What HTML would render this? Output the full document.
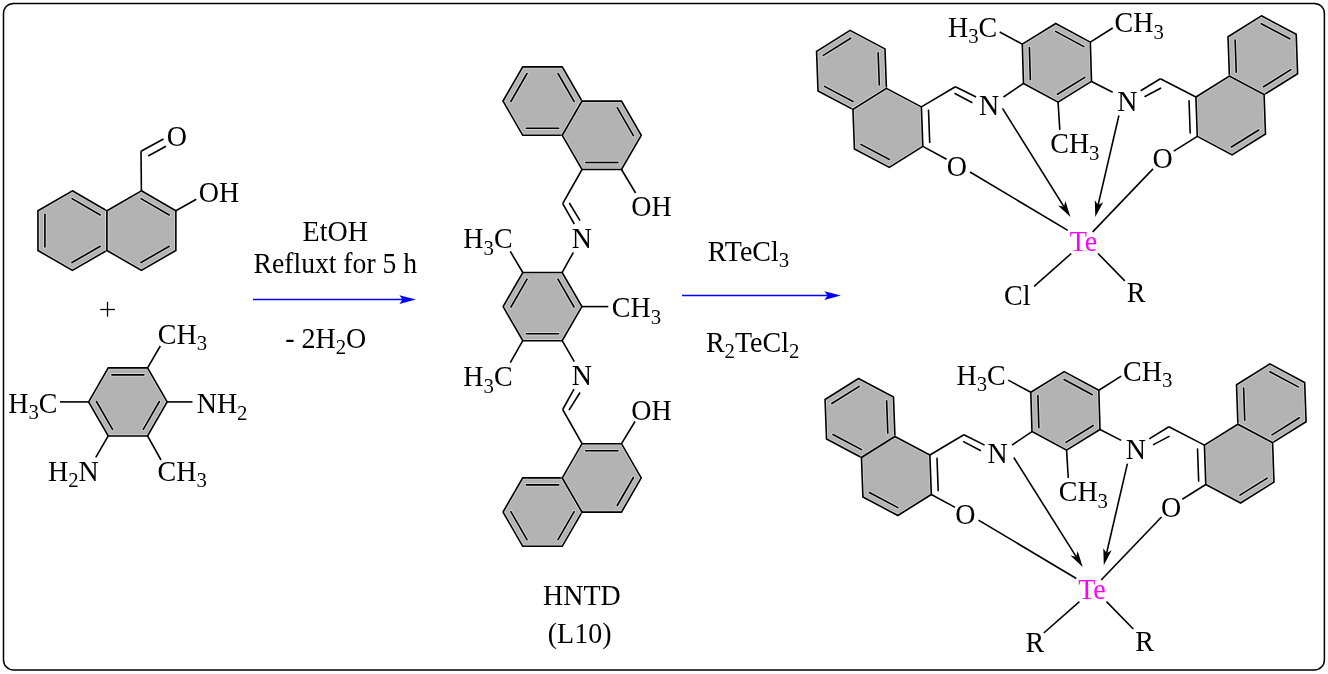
<!DOCTYPE html>
<html><head><meta charset="utf-8"><style>
html,body{margin:0;padding:0;background:#fff;width:1328px;height:674px;overflow:hidden}
svg{display:block;will-change:transform}
text{font-family:"Liberation Serif",serif}
</style></head><body>
<svg width="1328" height="674" viewBox="0 0 1328 674">
<rect x="3.5" y="3.4" width="1320.9" height="666.6" rx="10" ry="10" fill="none" stroke="#000" stroke-width="1.5"/>
<polygon points="72.4,190.8 106.87,210.7 106.87,250.5 72.4,270.4 37.93,250.5 37.93,210.7" fill="#b3b3b3" stroke="#fff" stroke-opacity="0.4" stroke-width="3.2" stroke-linejoin="miter"/>
<polygon points="72.4,190.8 106.87,210.7 106.87,250.5 72.4,270.4 37.93,250.5 37.93,210.7" fill="none" stroke="#000" stroke-width="1.6" stroke-linejoin="miter"/>
<line x1="72.02" y1="198.66" x2="100.25" y2="214.96" stroke="#fff" stroke-opacity="0.4" stroke-width="3.6" stroke-linecap="round"/>
<line x1="72.02" y1="198.66" x2="100.25" y2="214.96" stroke="#000" stroke-width="1.6" stroke-linecap="round"/>
<line x1="100.25" y1="246.24" x2="72.02" y2="262.54" stroke="#fff" stroke-opacity="0.4" stroke-width="3.6" stroke-linecap="round"/>
<line x1="100.25" y1="246.24" x2="72.02" y2="262.54" stroke="#000" stroke-width="1.6" stroke-linecap="round"/>
<line x1="44.93" y1="246.9" x2="44.93" y2="214.3" stroke="#fff" stroke-opacity="0.4" stroke-width="3.6" stroke-linecap="round"/>
<line x1="44.93" y1="246.9" x2="44.93" y2="214.3" stroke="#000" stroke-width="1.6" stroke-linecap="round"/>
<polygon points="141.4,190.8 175.87,210.7 175.87,250.5 141.4,270.4 106.93,250.5 106.93,210.7" fill="#b3b3b3" stroke="#fff" stroke-opacity="0.4" stroke-width="3.2" stroke-linejoin="miter"/>
<polygon points="141.4,190.8 175.87,210.7 175.87,250.5 141.4,270.4 106.93,250.5 106.93,210.7" fill="none" stroke="#000" stroke-width="1.6" stroke-linejoin="miter"/>
<line x1="141.02" y1="198.66" x2="169.25" y2="214.96" stroke="#fff" stroke-opacity="0.4" stroke-width="3.6" stroke-linecap="round"/>
<line x1="141.02" y1="198.66" x2="169.25" y2="214.96" stroke="#000" stroke-width="1.6" stroke-linecap="round"/>
<line x1="169.25" y1="246.24" x2="141.02" y2="262.54" stroke="#fff" stroke-opacity="0.4" stroke-width="3.6" stroke-linecap="round"/>
<line x1="169.25" y1="246.24" x2="141.02" y2="262.54" stroke="#000" stroke-width="1.6" stroke-linecap="round"/>
<line x1="141.4" y1="190.8" x2="141" y2="151.25" stroke="#000" stroke-width="1.6" stroke-linecap="butt"/>
<line x1="141" y1="151.25" x2="163.5" y2="139" stroke="#000" stroke-width="1.6" stroke-linecap="butt"/>
<line x1="148.2" y1="156" x2="166" y2="146.2" stroke="#000" stroke-width="1.6" stroke-linecap="butt"/>
<text x="166.85" y="145.7" fill="#000" font-size="28" transform="matrix(1,0,0,1.03,0,-4.37)">O</text>
<line x1="175.87" y1="210.7" x2="196.3" y2="199.3" stroke="#000" stroke-width="1.6" stroke-linecap="butt"/>
<text x="198.85" y="202" fill="#000" font-size="28" transform="matrix(1,0,0,1.03,0,-6.06)">OH</text>
<line x1="100.3" y1="309.5" x2="115" y2="309.5" stroke="#000" stroke-width="1.25" stroke-linecap="butt"/>
<line x1="107.5" y1="301.8" x2="107.5" y2="316.6" stroke="#000" stroke-width="1.25" stroke-linecap="butt"/>
<polygon points="167.2,401.9 147.55,435.93 108.25,435.93 88.6,401.9 108.25,367.87 147.55,367.87" fill="#b3b3b3" stroke="#fff" stroke-opacity="0.4" stroke-width="3.2" stroke-linejoin="miter"/>
<polygon points="167.2,401.9 147.55,435.93 108.25,435.93 88.6,401.9 108.25,367.87 147.55,367.87" fill="none" stroke="#000" stroke-width="1.6" stroke-linejoin="miter"/>
<line x1="111.85" y1="374.87" x2="143.95" y2="374.87" stroke="#fff" stroke-opacity="0.4" stroke-width="3.6" stroke-linecap="round"/>
<line x1="111.85" y1="374.87" x2="143.95" y2="374.87" stroke="#000" stroke-width="1.6" stroke-linecap="round"/>
<line x1="159.34" y1="401.52" x2="143.29" y2="429.32" stroke="#fff" stroke-opacity="0.4" stroke-width="3.6" stroke-linecap="round"/>
<line x1="159.34" y1="401.52" x2="143.29" y2="429.32" stroke="#000" stroke-width="1.6" stroke-linecap="round"/>
<line x1="112.51" y1="429.32" x2="96.46" y2="401.52" stroke="#fff" stroke-opacity="0.4" stroke-width="3.6" stroke-linecap="round"/>
<line x1="112.51" y1="429.32" x2="96.46" y2="401.52" stroke="#000" stroke-width="1.6" stroke-linecap="round"/>
<line x1="147.55" y1="367.87" x2="160.3" y2="346" stroke="#000" stroke-width="1.6" stroke-linecap="butt"/>
<text x="157.85" y="344.1" fill="#000" font-size="28" transform="matrix(1,0,0,1.03,0,-10.32)">CH<tspan font-size="20.8" dy="6.2">3</tspan></text>
<line x1="167.2" y1="401.9" x2="192.5" y2="401.9" stroke="#000" stroke-width="1.6" stroke-linecap="butt"/>
<text x="196.69" y="413.2" fill="#000" font-size="28" transform="matrix(1,0,0,1.03,0,-12.4)">NH<tspan font-size="20.8" dy="6.2">2</tspan></text>
<line x1="88.6" y1="401.9" x2="60" y2="401.9" stroke="#000" stroke-width="1.6" stroke-linecap="butt"/>
<text x="8.23" y="412.7" fill="#000" font-size="28" transform="matrix(1,0,0,1.03,0,-12.38)">H<tspan font-size="20.8" dy="6.2">3</tspan><tspan dy="-6.2">C</tspan></text>
<line x1="108.25" y1="435.93" x2="95.75" y2="457.3" stroke="#000" stroke-width="1.6" stroke-linecap="butt"/>
<text x="47.94" y="481" fill="#000" font-size="28" transform="matrix(1,0,0,1.03,0,-14.43)">H<tspan font-size="20.8" dy="6.2">2</tspan><tspan dy="-6.2">N</tspan></text>
<line x1="147.55" y1="435.93" x2="161" y2="460" stroke="#000" stroke-width="1.6" stroke-linecap="butt"/>
<text x="157.6" y="481" fill="#000" font-size="28" transform="matrix(1,0,0,1.03,0,-14.43)">CH<tspan font-size="20.8" dy="6.2">3</tspan></text>
<polygon points="415.8,299.6 399.4,304 402.6,299.6 399.4,295.2" fill="#0000ff"/>
<line x1="253" y1="299.6" x2="403" y2="299.6" stroke="#0000ff" stroke-width="1.5" stroke-linecap="butt"/>
<text x="302.59" y="240.7" fill="#000" font-size="28" transform="matrix(1,0,0,1.03,0,-7.22)">EtOH</text>
<text x="253.6" y="272.7" fill="#000" font-size="27.65" transform="matrix(1,0,0,1.03,0,-8.18)">Refluxt for 5 h</text>
<text x="285.16" y="347.8" fill="#000" font-size="28" transform="matrix(1,0,0,1.03,0,-10.43)">- 2H<tspan font-size="20.8" dy="6.2">2</tspan><tspan dy="-6.2">O</tspan></text>
<polygon points="581.9,306.6 562.2,340.72 522.8,340.72 503.1,306.6 522.8,272.48 562.2,272.48" fill="#b3b3b3" stroke="#fff" stroke-opacity="0.4" stroke-width="3.2" stroke-linejoin="miter"/>
<polygon points="581.9,306.6 562.2,340.72 522.8,340.72 503.1,306.6 522.8,272.48 562.2,272.48" fill="none" stroke="#000" stroke-width="1.6" stroke-linejoin="miter"/>
<line x1="510.96" y1="306.98" x2="527.06" y2="279.1" stroke="#fff" stroke-opacity="0.4" stroke-width="3.6" stroke-linecap="round"/>
<line x1="510.96" y1="306.98" x2="527.06" y2="279.1" stroke="#000" stroke-width="1.6" stroke-linecap="round"/>
<line x1="557.94" y1="279.1" x2="574.04" y2="306.98" stroke="#fff" stroke-opacity="0.4" stroke-width="3.6" stroke-linecap="round"/>
<line x1="557.94" y1="279.1" x2="574.04" y2="306.98" stroke="#000" stroke-width="1.6" stroke-linecap="round"/>
<line x1="558.6" y1="333.72" x2="526.4" y2="333.72" stroke="#fff" stroke-opacity="0.4" stroke-width="3.6" stroke-linecap="round"/>
<line x1="558.6" y1="333.72" x2="526.4" y2="333.72" stroke="#000" stroke-width="1.6" stroke-linecap="round"/>
<polygon points="582,101.1 562.25,135.31 522.75,135.31 503,101.1 522.75,66.89 562.25,66.89" fill="#b3b3b3" stroke="#fff" stroke-opacity="0.4" stroke-width="3.2" stroke-linejoin="miter"/>
<polygon points="582,101.1 562.25,135.31 522.75,135.31 503,101.1 522.75,66.89 562.25,66.89" fill="none" stroke="#000" stroke-width="1.6" stroke-linejoin="miter"/>
<line x1="510.86" y1="101.48" x2="527.01" y2="73.51" stroke="#fff" stroke-opacity="0.4" stroke-width="3.6" stroke-linecap="round"/>
<line x1="510.86" y1="101.48" x2="527.01" y2="73.51" stroke="#000" stroke-width="1.6" stroke-linecap="round"/>
<line x1="557.99" y1="73.51" x2="574.14" y2="101.48" stroke="#fff" stroke-opacity="0.4" stroke-width="3.6" stroke-linecap="round"/>
<line x1="557.99" y1="73.51" x2="574.14" y2="101.48" stroke="#000" stroke-width="1.6" stroke-linecap="round"/>
<line x1="558.65" y1="128.31" x2="526.35" y2="128.31" stroke="#fff" stroke-opacity="0.4" stroke-width="3.6" stroke-linecap="round"/>
<line x1="558.65" y1="128.31" x2="526.35" y2="128.31" stroke="#000" stroke-width="1.6" stroke-linecap="round"/>
<polygon points="641.25,135.3 621.5,169.51 582,169.51 562.25,135.3 582,101.09 621.5,101.09" fill="#b3b3b3" stroke="#fff" stroke-opacity="0.4" stroke-width="3.2" stroke-linejoin="miter"/>
<polygon points="641.25,135.3 621.5,169.51 582,169.51 562.25,135.3 582,101.09 621.5,101.09" fill="none" stroke="#000" stroke-width="1.6" stroke-linejoin="miter"/>
<line x1="617.24" y1="107.71" x2="633.39" y2="135.68" stroke="#fff" stroke-opacity="0.4" stroke-width="3.6" stroke-linecap="round"/>
<line x1="617.24" y1="107.71" x2="633.39" y2="135.68" stroke="#000" stroke-width="1.6" stroke-linecap="round"/>
<line x1="617.9" y1="162.51" x2="585.6" y2="162.51" stroke="#fff" stroke-opacity="0.4" stroke-width="3.6" stroke-linecap="round"/>
<line x1="617.9" y1="162.51" x2="585.6" y2="162.51" stroke="#000" stroke-width="1.6" stroke-linecap="round"/>
<polygon points="582,512.1 562.25,546.31 522.75,546.31 503,512.1 522.75,477.89 562.25,477.89" fill="#b3b3b3" stroke="#fff" stroke-opacity="0.4" stroke-width="3.2" stroke-linejoin="miter"/>
<polygon points="582,512.1 562.25,546.31 522.75,546.31 503,512.1 522.75,477.89 562.25,477.89" fill="none" stroke="#000" stroke-width="1.6" stroke-linejoin="miter"/>
<line x1="527.01" y1="539.69" x2="510.86" y2="511.72" stroke="#fff" stroke-opacity="0.4" stroke-width="3.6" stroke-linecap="round"/>
<line x1="527.01" y1="539.69" x2="510.86" y2="511.72" stroke="#000" stroke-width="1.6" stroke-linecap="round"/>
<line x1="526.35" y1="484.89" x2="558.65" y2="484.89" stroke="#fff" stroke-opacity="0.4" stroke-width="3.6" stroke-linecap="round"/>
<line x1="526.35" y1="484.89" x2="558.65" y2="484.89" stroke="#000" stroke-width="1.6" stroke-linecap="round"/>
<line x1="574.14" y1="511.72" x2="557.99" y2="539.69" stroke="#fff" stroke-opacity="0.4" stroke-width="3.6" stroke-linecap="round"/>
<line x1="574.14" y1="511.72" x2="557.99" y2="539.69" stroke="#000" stroke-width="1.6" stroke-linecap="round"/>
<polygon points="641.25,477.9 621.5,512.11 582,512.11 562.25,477.9 582,443.69 621.5,443.69" fill="#b3b3b3" stroke="#fff" stroke-opacity="0.4" stroke-width="3.2" stroke-linejoin="miter"/>
<polygon points="641.25,477.9 621.5,512.11 582,512.11 562.25,477.9 582,443.69 621.5,443.69" fill="none" stroke="#000" stroke-width="1.6" stroke-linejoin="miter"/>
<line x1="585.6" y1="450.69" x2="617.9" y2="450.69" stroke="#fff" stroke-opacity="0.4" stroke-width="3.6" stroke-linecap="round"/>
<line x1="585.6" y1="450.69" x2="617.9" y2="450.69" stroke="#000" stroke-width="1.6" stroke-linecap="round"/>
<line x1="633.39" y1="477.52" x2="617.24" y2="505.49" stroke="#fff" stroke-opacity="0.4" stroke-width="3.6" stroke-linecap="round"/>
<line x1="633.39" y1="477.52" x2="617.24" y2="505.49" stroke="#000" stroke-width="1.6" stroke-linecap="round"/>
<line x1="522.8" y1="272.48" x2="510.3" y2="251.4" stroke="#000" stroke-width="1.6" stroke-linecap="butt"/>
<text x="463.29" y="248.5" fill="#000" font-size="28" transform="matrix(1,0,0,1.03,0,-7.46)">H<tspan font-size="20.8" dy="6.2">3</tspan><tspan dy="-6.2">C</tspan></text>
<line x1="562.2" y1="272.48" x2="573.4" y2="252.3" stroke="#000" stroke-width="1.6" stroke-linecap="butt"/>
<text x="571.69" y="248.5" fill="#000" font-size="28" transform="matrix(1,0,0,1.03,0,-7.46)">N</text>
<line x1="574.3" y1="224" x2="562.7" y2="203.7" stroke="#000" stroke-width="1.6" stroke-linecap="butt"/>
<line x1="569.3" y1="203" x2="580" y2="220.7" stroke="#000" stroke-width="1.6" stroke-linecap="butt"/>
<line x1="562.7" y1="203.7" x2="582" y2="169.51" stroke="#000" stroke-width="1.6" stroke-linecap="butt"/>
<line x1="621.5" y1="169.51" x2="635.6" y2="193" stroke="#000" stroke-width="1.6" stroke-linecap="butt"/>
<text x="631.25" y="215.6" fill="#000" font-size="28" transform="matrix(1,0,0,1.03,0,-6.47)">OH</text>
<line x1="581.9" y1="306.6" x2="608.3" y2="306.6" stroke="#000" stroke-width="1.6" stroke-linecap="butt"/>
<text x="611.85" y="317.5" fill="#000" font-size="28" transform="matrix(1,0,0,1.03,0,-9.53)">CH<tspan font-size="20.8" dy="6.2">3</tspan></text>
<line x1="522.8" y1="340.72" x2="510.3" y2="362.7" stroke="#000" stroke-width="1.6" stroke-linecap="butt"/>
<text x="463.29" y="386.4" fill="#000" font-size="28" transform="matrix(1,0,0,1.03,0,-11.59)">H<tspan font-size="20.8" dy="6.2">3</tspan><tspan dy="-6.2">C</tspan></text>
<line x1="562.2" y1="340.72" x2="574.3" y2="361.7" stroke="#000" stroke-width="1.6" stroke-linecap="butt"/>
<text x="571.69" y="385.4" fill="#000" font-size="28" transform="matrix(1,0,0,1.03,0,-11.56)">N</text>
<line x1="574" y1="389.2" x2="562.7" y2="409.5" stroke="#000" stroke-width="1.6" stroke-linecap="butt"/>
<line x1="569" y1="410.2" x2="580" y2="392.5" stroke="#000" stroke-width="1.6" stroke-linecap="butt"/>
<line x1="562.7" y1="409.5" x2="582" y2="443.69" stroke="#000" stroke-width="1.6" stroke-linecap="butt"/>
<line x1="621.5" y1="443.69" x2="635" y2="421.5" stroke="#000" stroke-width="1.6" stroke-linecap="butt"/>
<text x="631.25" y="420.3" fill="#000" font-size="28" transform="matrix(1,0,0,1.03,0,-12.61)">OH</text>
<text x="542.99" y="604.8" fill="#000" font-size="28" transform="matrix(1,0,0,1.03,0,-18.14)">HNTD</text>
<text x="547.77" y="643.1" fill="#000" font-size="28" transform="matrix(1,0,0,1.03,0,-19.29)">(L10)</text>
<polygon points="840.7,295.6 824.4,299.9 827.6,295.6 824.4,291.3" fill="#0000ff"/>
<line x1="682" y1="295.6" x2="828" y2="295.6" stroke="#0000ff" stroke-width="1.5" stroke-linecap="butt"/>
<text x="707.79" y="260.9" fill="#000" font-size="28" transform="matrix(1,0,0,1.03,0,-7.83)">RTeCl<tspan font-size="20.8" dy="6.2">3</tspan></text>
<text x="705.89" y="351.6" fill="#000" font-size="28" transform="matrix(1,0,0,1.03,0,-10.55)">R<tspan font-size="20.8" dy="6.2">2</tspan><tspan dy="-6.2">TeCl</tspan><tspan font-size="20.8" dy="6.2">2</tspan></text>
<g transform="translate(0,0)">
<polygon points="850.05,30.4 884.99,48.89 886.44,88.4 852.95,109.4 818.01,90.91 816.56,51.4" fill="#b3b3b3" stroke="#fff" stroke-opacity="0.4" stroke-width="3.2" stroke-linejoin="miter"/>
<polygon points="850.05,30.4 884.99,48.89 886.44,88.4 852.95,109.4 818.01,90.91 816.56,51.4" fill="none" stroke="#000" stroke-width="1.6" stroke-linejoin="miter"/>
<line x1="823.33" y1="55.42" x2="850.72" y2="38.24" stroke="#fff" stroke-opacity="0.4" stroke-width="3.6" stroke-linecap="round"/>
<line x1="823.33" y1="55.42" x2="850.72" y2="38.24" stroke="#000" stroke-width="1.6" stroke-linecap="round"/>
<line x1="878.12" y1="52.75" x2="879.31" y2="85.06" stroke="#fff" stroke-opacity="0.4" stroke-width="3.6" stroke-linecap="round"/>
<line x1="878.12" y1="52.75" x2="879.31" y2="85.06" stroke="#000" stroke-width="1.6" stroke-linecap="round"/>
<line x1="853.04" y1="101.53" x2="824.47" y2="86.4" stroke="#fff" stroke-opacity="0.4" stroke-width="3.6" stroke-linecap="round"/>
<line x1="853.04" y1="101.53" x2="824.47" y2="86.4" stroke="#000" stroke-width="1.6" stroke-linecap="round"/>
<polygon points="886.45,88.4 921.39,106.89 922.84,146.4 889.35,167.4 854.41,148.91 852.96,109.4" fill="#b3b3b3" stroke="#fff" stroke-opacity="0.4" stroke-width="3.2" stroke-linejoin="miter"/>
<polygon points="886.45,88.4 921.39,106.89 922.84,146.4 889.35,167.4 854.41,148.91 852.96,109.4" fill="none" stroke="#000" stroke-width="1.6" stroke-linejoin="miter"/>
<line x1="889.44" y1="159.53" x2="860.87" y2="144.4" stroke="#fff" stroke-opacity="0.4" stroke-width="3.6" stroke-linecap="round"/>
<line x1="889.44" y1="159.53" x2="860.87" y2="144.4" stroke="#000" stroke-width="1.6" stroke-linecap="round"/>
<line x1="928.51" y1="110.23" x2="929.7" y2="142.54" stroke="#000" stroke-width="1.6" stroke-linecap="round"/>
<line x1="921.39" y1="106.89" x2="955.4" y2="86.7" stroke="#000" stroke-width="1.6" stroke-linecap="butt"/>
<line x1="955.4" y1="86.7" x2="976.1" y2="97" stroke="#000" stroke-width="1.6" stroke-linecap="butt"/>
<line x1="954.5" y1="93.3" x2="972.4" y2="102.7" stroke="#000" stroke-width="1.6" stroke-linecap="butt"/>
<text x="979.09" y="115.3" fill="#000" font-size="28" transform="matrix(1,0,0,1.03,0,-3.46)">N</text>
<polygon points="1055.73,23.52 1090.34,42.15 1091.5,81.43 1058.07,102.08 1023.46,83.45 1022.3,44.17" fill="#b3b3b3" stroke="#fff" stroke-opacity="0.4" stroke-width="3.2" stroke-linejoin="miter"/>
<polygon points="1055.73,23.52 1090.34,42.15 1091.5,81.43 1058.07,102.08 1023.46,83.45 1022.3,44.17" fill="none" stroke="#000" stroke-width="1.6" stroke-linejoin="miter"/>
<line x1="1055.59" y1="31.39" x2="1083.85" y2="46.61" stroke="#fff" stroke-opacity="0.4" stroke-width="3.6" stroke-linecap="round"/>
<line x1="1055.59" y1="31.39" x2="1083.85" y2="46.61" stroke="#000" stroke-width="1.6" stroke-linecap="round"/>
<line x1="1030.35" y1="79.64" x2="1029.4" y2="47.56" stroke="#fff" stroke-opacity="0.4" stroke-width="3.6" stroke-linecap="round"/>
<line x1="1030.35" y1="79.64" x2="1029.4" y2="47.56" stroke="#000" stroke-width="1.6" stroke-linecap="round"/>
<line x1="1084.76" y1="77.37" x2="1057.45" y2="94.24" stroke="#fff" stroke-opacity="0.4" stroke-width="3.6" stroke-linecap="round"/>
<line x1="1084.76" y1="77.37" x2="1057.45" y2="94.24" stroke="#000" stroke-width="1.6" stroke-linecap="round"/>
<line x1="1003.5" y1="97" x2="1023.46" y2="83.45" stroke="#000" stroke-width="1.6" stroke-linecap="butt"/>
<line x1="922.84" y1="146.4" x2="946.6" y2="159.3" stroke="#000" stroke-width="1.6" stroke-linecap="butt"/>
<text x="946.75" y="176" fill="#000" font-size="28" transform="matrix(1,0,0,1.03,0,-5.28)">O</text>
<line x1="970" y1="172" x2="1067.8" y2="230.4" stroke="#000" stroke-width="1.6" stroke-linecap="butt"/>
<polygon points="1070.4,217.1 1058.12,205.55 1063.89,206.67 1065.42,201" fill="#000"/>
<line x1="1002.5" y1="108.3" x2="1063.89" y2="206.67" stroke="#000" stroke-width="1.6" stroke-linecap="butt"/>
<line x1="1022.3" y1="44.17" x2="999.7" y2="32" stroke="#000" stroke-width="1.6" stroke-linecap="butt"/>
<text x="947.99" y="36.7" fill="#000" font-size="28" transform="matrix(1,0,0,1.03,0,-1.1)">H<tspan font-size="20.8" dy="6.2">3</tspan><tspan dy="-6.2">C</tspan></text>
<line x1="1090.34" y1="42.15" x2="1112.7" y2="28" stroke="#000" stroke-width="1.6" stroke-linecap="butt"/>
<text x="1114.55" y="32.5" fill="#000" font-size="28" transform="matrix(1,0,0,1.03,0,-0.98)">CH<tspan font-size="20.8" dy="6.2">3</tspan></text>
<line x1="1091.5" y1="81.43" x2="1112.7" y2="92.3" stroke="#000" stroke-width="1.6" stroke-linecap="butt"/>
<text x="1117.19" y="111" fill="#000" font-size="28" transform="matrix(1,0,0,1.03,0,-3.33)">N</text>
<line x1="1058.07" y1="102.08" x2="1059.8" y2="129.9" stroke="#000" stroke-width="1.6" stroke-linecap="butt"/>
<text x="1050.25" y="153.4" fill="#000" font-size="28" transform="matrix(1,0,0,1.03,0,-4.6)">CH<tspan font-size="20.8" dy="6.2">3</tspan></text>
<line x1="1140.7" y1="90.8" x2="1160.4" y2="78.7" stroke="#000" stroke-width="1.6" stroke-linecap="butt"/>
<line x1="1144.5" y1="96.8" x2="1161.1" y2="88" stroke="#000" stroke-width="1.6" stroke-linecap="butt"/>
<polygon points="1261.42,15.82 1296.21,34.32 1297.59,73.7 1264.18,94.58 1229.39,76.08 1228.01,36.7" fill="#b3b3b3" stroke="#fff" stroke-opacity="0.4" stroke-width="3.2" stroke-linejoin="miter"/>
<polygon points="1261.42,15.82 1296.21,34.32 1297.59,73.7 1264.18,94.58 1229.39,76.08 1228.01,36.7" fill="none" stroke="#000" stroke-width="1.6" stroke-linejoin="miter"/>
<line x1="1261.32" y1="23.69" x2="1289.75" y2="38.81" stroke="#fff" stroke-opacity="0.4" stroke-width="3.6" stroke-linecap="round"/>
<line x1="1261.32" y1="23.69" x2="1289.75" y2="38.81" stroke="#000" stroke-width="1.6" stroke-linecap="round"/>
<line x1="1236.26" y1="72.24" x2="1235.13" y2="40.06" stroke="#fff" stroke-opacity="0.4" stroke-width="3.6" stroke-linecap="round"/>
<line x1="1236.26" y1="72.24" x2="1235.13" y2="40.06" stroke="#000" stroke-width="1.6" stroke-linecap="round"/>
<line x1="1290.83" y1="69.67" x2="1263.52" y2="86.73" stroke="#fff" stroke-opacity="0.4" stroke-width="3.6" stroke-linecap="round"/>
<line x1="1290.83" y1="69.67" x2="1263.52" y2="86.73" stroke="#000" stroke-width="1.6" stroke-linecap="round"/>
<polygon points="1229.32,76.12 1264.11,94.62 1265.49,134 1232.08,154.88 1197.29,136.38 1195.91,97" fill="#b3b3b3" stroke="#fff" stroke-opacity="0.4" stroke-width="3.2" stroke-linejoin="miter"/>
<polygon points="1229.32,76.12 1264.11,94.62 1265.49,134 1232.08,154.88 1197.29,136.38 1195.91,97" fill="none" stroke="#000" stroke-width="1.6" stroke-linejoin="miter"/>
<line x1="1258.73" y1="129.97" x2="1231.42" y2="147.03" stroke="#fff" stroke-opacity="0.4" stroke-width="3.6" stroke-linecap="round"/>
<line x1="1258.73" y1="129.97" x2="1231.42" y2="147.03" stroke="#000" stroke-width="1.6" stroke-linecap="round"/>
<line x1="1190.17" y1="133.03" x2="1189.04" y2="100.84" stroke="#000" stroke-width="1.6" stroke-linecap="round"/>
<line x1="1160.4" y1="78.7" x2="1195.91" y2="97" stroke="#000" stroke-width="1.6" stroke-linecap="butt"/>
<polygon points="1095.3,217.1 1094.8,200.25 1098.08,205.12 1103.18,202.2" fill="#000"/>
<line x1="1118.9" y1="115.5" x2="1098.08" y2="205.12" stroke="#000" stroke-width="1.6" stroke-linecap="butt"/>
<line x1="1197.29" y1="136.38" x2="1173.8" y2="151.1" stroke="#000" stroke-width="1.6" stroke-linecap="butt"/>
<text x="1152.55" y="168.5" fill="#000" font-size="28" transform="matrix(1,0,0,1.03,0,-5.06)">O</text>
<line x1="1153" y1="168.9" x2="1092.7" y2="231.9" stroke="#000" stroke-width="1.6" stroke-linecap="butt"/>
<text x="1069.69" y="251.3" fill="#ff00ff" font-size="28" transform="matrix(1,0,0,1.03,0,-7.54)">Te</text>
<line x1="1098" y1="253.5" x2="1124.8" y2="280.9" stroke="#000" stroke-width="1.6" stroke-linecap="butt"/>
<text x="1126.79" y="302.5" fill="#000" font-size="28" transform="matrix(1,0,0,1.03,0,-9.08)">R</text>
</g>
<line x1="1071.3" y1="253.5" x2="1034.1" y2="286.4" stroke="#000" stroke-width="1.6" stroke-linecap="butt"/>
<text x="1004.05" y="304.7" fill="#000" font-size="28" transform="matrix(1,0,0,1.03,0,-9.14)">Cl</text>
<g transform="translate(8.5,348.1)">
<polygon points="850.05,30.4 884.99,48.89 886.44,88.4 852.95,109.4 818.01,90.91 816.56,51.4" fill="#b3b3b3" stroke="#fff" stroke-opacity="0.4" stroke-width="3.2" stroke-linejoin="miter"/>
<polygon points="850.05,30.4 884.99,48.89 886.44,88.4 852.95,109.4 818.01,90.91 816.56,51.4" fill="none" stroke="#000" stroke-width="1.6" stroke-linejoin="miter"/>
<line x1="823.33" y1="55.42" x2="850.72" y2="38.24" stroke="#fff" stroke-opacity="0.4" stroke-width="3.6" stroke-linecap="round"/>
<line x1="823.33" y1="55.42" x2="850.72" y2="38.24" stroke="#000" stroke-width="1.6" stroke-linecap="round"/>
<line x1="878.12" y1="52.75" x2="879.31" y2="85.06" stroke="#fff" stroke-opacity="0.4" stroke-width="3.6" stroke-linecap="round"/>
<line x1="878.12" y1="52.75" x2="879.31" y2="85.06" stroke="#000" stroke-width="1.6" stroke-linecap="round"/>
<line x1="853.04" y1="101.53" x2="824.47" y2="86.4" stroke="#fff" stroke-opacity="0.4" stroke-width="3.6" stroke-linecap="round"/>
<line x1="853.04" y1="101.53" x2="824.47" y2="86.4" stroke="#000" stroke-width="1.6" stroke-linecap="round"/>
<polygon points="886.45,88.4 921.39,106.89 922.84,146.4 889.35,167.4 854.41,148.91 852.96,109.4" fill="#b3b3b3" stroke="#fff" stroke-opacity="0.4" stroke-width="3.2" stroke-linejoin="miter"/>
<polygon points="886.45,88.4 921.39,106.89 922.84,146.4 889.35,167.4 854.41,148.91 852.96,109.4" fill="none" stroke="#000" stroke-width="1.6" stroke-linejoin="miter"/>
<line x1="889.44" y1="159.53" x2="860.87" y2="144.4" stroke="#fff" stroke-opacity="0.4" stroke-width="3.6" stroke-linecap="round"/>
<line x1="889.44" y1="159.53" x2="860.87" y2="144.4" stroke="#000" stroke-width="1.6" stroke-linecap="round"/>
<line x1="928.51" y1="110.23" x2="929.7" y2="142.54" stroke="#000" stroke-width="1.6" stroke-linecap="round"/>
<line x1="921.39" y1="106.89" x2="955.4" y2="86.7" stroke="#000" stroke-width="1.6" stroke-linecap="butt"/>
<line x1="955.4" y1="86.7" x2="976.1" y2="97" stroke="#000" stroke-width="1.6" stroke-linecap="butt"/>
<line x1="954.5" y1="93.3" x2="972.4" y2="102.7" stroke="#000" stroke-width="1.6" stroke-linecap="butt"/>
<text x="979.09" y="115.3" fill="#000" font-size="28" transform="matrix(1,0,0,1.03,0,-3.46)">N</text>
<polygon points="1055.73,23.52 1090.34,42.15 1091.5,81.43 1058.07,102.08 1023.46,83.45 1022.3,44.17" fill="#b3b3b3" stroke="#fff" stroke-opacity="0.4" stroke-width="3.2" stroke-linejoin="miter"/>
<polygon points="1055.73,23.52 1090.34,42.15 1091.5,81.43 1058.07,102.08 1023.46,83.45 1022.3,44.17" fill="none" stroke="#000" stroke-width="1.6" stroke-linejoin="miter"/>
<line x1="1055.59" y1="31.39" x2="1083.85" y2="46.61" stroke="#fff" stroke-opacity="0.4" stroke-width="3.6" stroke-linecap="round"/>
<line x1="1055.59" y1="31.39" x2="1083.85" y2="46.61" stroke="#000" stroke-width="1.6" stroke-linecap="round"/>
<line x1="1030.35" y1="79.64" x2="1029.4" y2="47.56" stroke="#fff" stroke-opacity="0.4" stroke-width="3.6" stroke-linecap="round"/>
<line x1="1030.35" y1="79.64" x2="1029.4" y2="47.56" stroke="#000" stroke-width="1.6" stroke-linecap="round"/>
<line x1="1084.76" y1="77.37" x2="1057.45" y2="94.24" stroke="#fff" stroke-opacity="0.4" stroke-width="3.6" stroke-linecap="round"/>
<line x1="1084.76" y1="77.37" x2="1057.45" y2="94.24" stroke="#000" stroke-width="1.6" stroke-linecap="round"/>
<line x1="1003.5" y1="97" x2="1023.46" y2="83.45" stroke="#000" stroke-width="1.6" stroke-linecap="butt"/>
<line x1="922.84" y1="146.4" x2="946.6" y2="159.3" stroke="#000" stroke-width="1.6" stroke-linecap="butt"/>
<text x="946.75" y="176" fill="#000" font-size="28" transform="matrix(1,0,0,1.03,0,-5.28)">O</text>
<line x1="970" y1="172" x2="1067.8" y2="230.4" stroke="#000" stroke-width="1.6" stroke-linecap="butt"/>
<polygon points="1074.2,219 1061.88,207.49 1067.65,208.59 1069.17,202.91" fill="#000"/>
<line x1="1005.3" y1="109.4" x2="1067.65" y2="208.59" stroke="#000" stroke-width="1.6" stroke-linecap="butt"/>
<line x1="1022.3" y1="44.17" x2="999.7" y2="32" stroke="#000" stroke-width="1.6" stroke-linecap="butt"/>
<text x="947.99" y="36.7" fill="#000" font-size="28" transform="matrix(1,0,0,1.03,0,-1.1)">H<tspan font-size="20.8" dy="6.2">3</tspan><tspan dy="-6.2">C</tspan></text>
<line x1="1090.34" y1="42.15" x2="1112.7" y2="28" stroke="#000" stroke-width="1.6" stroke-linecap="butt"/>
<text x="1114.55" y="32.5" fill="#000" font-size="28" transform="matrix(1,0,0,1.03,0,-0.98)">CH<tspan font-size="20.8" dy="6.2">3</tspan></text>
<line x1="1091.5" y1="81.43" x2="1112.7" y2="92.3" stroke="#000" stroke-width="1.6" stroke-linecap="butt"/>
<text x="1117.19" y="111" fill="#000" font-size="28" transform="matrix(1,0,0,1.03,0,-3.33)">N</text>
<line x1="1058.07" y1="102.08" x2="1059.8" y2="129.9" stroke="#000" stroke-width="1.6" stroke-linecap="butt"/>
<text x="1050.25" y="153.4" fill="#000" font-size="28" transform="matrix(1,0,0,1.03,0,-4.6)">CH<tspan font-size="20.8" dy="6.2">3</tspan></text>
<line x1="1140.7" y1="90.8" x2="1160.4" y2="78.7" stroke="#000" stroke-width="1.6" stroke-linecap="butt"/>
<line x1="1144.5" y1="96.8" x2="1161.1" y2="88" stroke="#000" stroke-width="1.6" stroke-linecap="butt"/>
<polygon points="1261.42,15.82 1296.21,34.32 1297.59,73.7 1264.18,94.58 1229.39,76.08 1228.01,36.7" fill="#b3b3b3" stroke="#fff" stroke-opacity="0.4" stroke-width="3.2" stroke-linejoin="miter"/>
<polygon points="1261.42,15.82 1296.21,34.32 1297.59,73.7 1264.18,94.58 1229.39,76.08 1228.01,36.7" fill="none" stroke="#000" stroke-width="1.6" stroke-linejoin="miter"/>
<line x1="1261.32" y1="23.69" x2="1289.75" y2="38.81" stroke="#fff" stroke-opacity="0.4" stroke-width="3.6" stroke-linecap="round"/>
<line x1="1261.32" y1="23.69" x2="1289.75" y2="38.81" stroke="#000" stroke-width="1.6" stroke-linecap="round"/>
<line x1="1236.26" y1="72.24" x2="1235.13" y2="40.06" stroke="#fff" stroke-opacity="0.4" stroke-width="3.6" stroke-linecap="round"/>
<line x1="1236.26" y1="72.24" x2="1235.13" y2="40.06" stroke="#000" stroke-width="1.6" stroke-linecap="round"/>
<line x1="1290.83" y1="69.67" x2="1263.52" y2="86.73" stroke="#fff" stroke-opacity="0.4" stroke-width="3.6" stroke-linecap="round"/>
<line x1="1290.83" y1="69.67" x2="1263.52" y2="86.73" stroke="#000" stroke-width="1.6" stroke-linecap="round"/>
<polygon points="1229.32,76.12 1264.11,94.62 1265.49,134 1232.08,154.88 1197.29,136.38 1195.91,97" fill="#b3b3b3" stroke="#fff" stroke-opacity="0.4" stroke-width="3.2" stroke-linejoin="miter"/>
<polygon points="1229.32,76.12 1264.11,94.62 1265.49,134 1232.08,154.88 1197.29,136.38 1195.91,97" fill="none" stroke="#000" stroke-width="1.6" stroke-linejoin="miter"/>
<line x1="1258.73" y1="129.97" x2="1231.42" y2="147.03" stroke="#fff" stroke-opacity="0.4" stroke-width="3.6" stroke-linecap="round"/>
<line x1="1258.73" y1="129.97" x2="1231.42" y2="147.03" stroke="#000" stroke-width="1.6" stroke-linecap="round"/>
<line x1="1190.17" y1="133.03" x2="1189.04" y2="100.84" stroke="#000" stroke-width="1.6" stroke-linecap="round"/>
<line x1="1160.4" y1="78.7" x2="1195.91" y2="97" stroke="#000" stroke-width="1.6" stroke-linecap="butt"/>
<polygon points="1095.3,217.1 1094.8,200.25 1098.08,205.12 1103.18,202.2" fill="#000"/>
<line x1="1118.9" y1="115.5" x2="1098.08" y2="205.12" stroke="#000" stroke-width="1.6" stroke-linecap="butt"/>
<line x1="1197.29" y1="136.38" x2="1173.8" y2="151.1" stroke="#000" stroke-width="1.6" stroke-linecap="butt"/>
<text x="1152.55" y="168.5" fill="#000" font-size="28" transform="matrix(1,0,0,1.03,0,-5.06)">O</text>
<line x1="1153" y1="168.9" x2="1092.7" y2="231.9" stroke="#000" stroke-width="1.6" stroke-linecap="butt"/>
<text x="1069.69" y="251.3" fill="#ff00ff" font-size="28" transform="matrix(1,0,0,1.03,0,-7.54)">Te</text>
<line x1="1098" y1="253.5" x2="1124.8" y2="280.9" stroke="#000" stroke-width="1.6" stroke-linecap="butt"/>
<text x="1126.79" y="302.5" fill="#000" font-size="28" transform="matrix(1,0,0,1.03,0,-9.08)">R</text>
</g>
<line x1="1079.4" y1="601.6" x2="1043.8" y2="633" stroke="#000" stroke-width="1.6" stroke-linecap="butt"/>
<text x="1025.59" y="652" fill="#000" font-size="28" transform="matrix(1,0,0,1.03,0,-19.56)">R</text>
</svg>
</body></html>
